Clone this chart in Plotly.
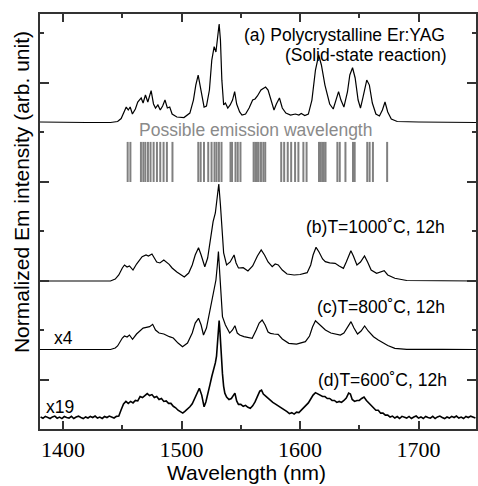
import plotly.graph_objects as go

# ---------------- data ----------------
# (a) Polycrystalline Er:YAG, intensity in % of its maximum
wl_a = [1380.5, 1400, 1420, 1440, 1446, 1449, 1451, 1453.3, 1455, 1456.6, 1458.5, 1461, 1463,
        1465.9, 1467.5, 1469.5, 1471.5, 1474.3, 1476.3, 1478, 1480, 1482, 1484, 1486, 1488,
        1490, 1492, 1496, 1502, 1507, 1510, 1512, 1514, 1516, 1519, 1521, 1523.5, 1525.5,
        1527.5, 1529, 1530.5, 1531.7, 1532.8, 1534, 1535.5, 1537, 1539, 1541, 1543, 1544.8,
        1546.5, 1549, 1551, 1554, 1557, 1560, 1562, 1564, 1567, 1570.9, 1573, 1576, 1578,
        1580, 1582.6, 1585, 1588, 1592, 1596, 1599, 1601, 1604, 1607, 1610, 1613, 1615.7,
        1618, 1621, 1625, 1628, 1630.5, 1632.5, 1634.5, 1637, 1640, 1642, 1644.3, 1646.5,
        1649, 1651, 1653, 1656.3, 1658.5, 1661, 1664, 1667, 1669.5, 1671.7, 1674, 1677,
        1682, 1700, 1748.5]
in_a = [0.5, 0, 0, 0, 1, 4, 10, 15.7, 12.7, 15.7, 8.6, 13.7, 20.8,
        24.9, 19.8, 27.9, 20.8, 32.3, 18.8, 14.7, 17.8, 12.7, 16.7, 22.8, 14.7,
        15.7, 8.6, 5.6, 5, 9.6, 22.8, 38, 48.2, 35, 15.7, 16.7, 33, 63.4,
        77, 71.6, 88.8, 100, 83.7, 43, 17.8, 19.8, 14.7, 17.8, 22.8, 31.3,
        18.8, 10.7, 7.6, 8.6, 14.7, 22.8, 23.9, 26.9, 33, 36, 33, 19.8, 12.7,
        18.8, 24.9, 14.7, 9.6, 7.6, 8.6, 7.6, 9.1, 7.1, 8.6, 22.8, 53.3, 68.5,
        58.4, 38, 18.8, 13.7, 22.8, 31.3, 22.8, 15.7, 31, 48.2, 55.6, 45.2,
        22.8, 14.7, 24.9, 43.1, 38, 19.8, 8.6, 6.6, 12.7, 20.8, 10.7, 3.6,
        1, 0.5, 0]

# (b) T=1000 C, 12h
wl_b = [1380.5, 1420, 1440, 1444, 1447, 1450, 1451.8, 1454, 1456, 1459, 1462, 1466.7, 1470,
        1472, 1475, 1477, 1479, 1481.7, 1485, 1489.5, 1492, 1496, 1502.3, 1506, 1509, 1511.5,
        1514.3, 1516.5, 1519.6, 1522, 1524.5, 1526.6, 1528.5, 1530, 1531.4, 1532.8, 1534,
        1535.5, 1538, 1541, 1544.3, 1546, 1548, 1552, 1556, 1560, 1564, 1567.2, 1570, 1573,
        1576.5, 1579, 1581.6, 1585, 1589, 1595, 1600, 1606, 1609, 1611, 1613.5, 1616, 1619,
        1621.3, 1625, 1629.6, 1633, 1636.6, 1639, 1642.9, 1645, 1648, 1651, 1654.4, 1657,
        1660, 1664.6, 1668, 1671, 1674, 1680, 1690, 1720, 1748.5]
in_b = [0, 0, 0, 2, 6.2, 13.4, 16.5, 14.4, 15.5, 11.3, 17.5, 25, 26.8,
        25.8, 27.8, 23.7, 19.6, 18.6, 21.6, 17.2, 13.4, 9.3, 4.1, 8.2, 16.5, 26.8,
        34.3, 26.8, 14.7, 23.7, 42.3, 61.1, 70.1, 87.6, 100, 78.4, 52.6,
        28.9, 16.5, 19.6, 26.8, 18.6, 13.4, 13.7, 10.3, 15.5, 25.8, 32, 26.8, 19.6,
        14.7, 17.5, 16.5, 11.3, 7.2, 6.2, 6.7, 8.6, 16.5, 26.8, 34.7, 29.9, 22.7,
        19.9, 18.6, 18.2, 15.5, 13.1, 19.6, 31.2, 25.8, 16.5, 19.6, 25.8, 19.6,
        11.3, 7.9, 9.3, 10.6, 6.2, 2.8, 0.5, 0.5, 0]

# (c) T=800 C, 12h
wl_c = [1380.5, 1420, 1440, 1444, 1446, 1450, 1451.8, 1454, 1456, 1458.6, 1462, 1467.5, 1471,
        1473, 1475.6, 1478, 1481, 1485, 1489.7, 1493, 1497, 1500.8, 1505, 1509, 1511.5,
        1514.3, 1516.5, 1518.5, 1521, 1524, 1526, 1529, 1530.2, 1531.1, 1532.3, 1533.5,
        1534.5, 1537, 1540.6, 1543, 1545, 1547, 1549, 1552.6, 1556, 1559.6, 1563, 1565.5,
        1568, 1570.5, 1573, 1575, 1578, 1581.5, 1585, 1590.5, 1597, 1604.5, 1608, 1610.5,
        1613, 1616, 1619, 1621.4, 1626, 1630, 1634, 1637, 1640, 1643, 1645.5, 1648.5,
        1651.5, 1654.5, 1657.5, 1662, 1666, 1670, 1674, 1680, 1690, 1720, 1748.5]
in_c = [0, 0, 0, 1.5, 3.6, 11.7, 13.8, 12.8, 14.8, 10.4, 15.8, 21.9, 23,
        23.3, 25.7, 19.9, 16.8, 15.8, 13.1, 11.7, 6.6, 2.9, 6.6, 16.8, 27,
        31.8, 25, 14.8, 21.9, 40.3, 53.9, 70.9, 86.2, 100, 76, 50.5,
        33.5, 25, 16.8, 19.9, 24.3, 16.8, 14.8, 13.1, 12.2, 11.4, 19.9, 27,
        30.1, 25, 17.9, 16.5, 15.8, 15.5, 10.7, 6.3, 5.6, 8, 13.8, 23,
        29.4, 26, 21.9, 19.9, 16.8, 15.8, 14.8, 16.8, 23, 28.4, 21.9, 15.8,
        18.9, 24, 18.9, 13.1, 9.7, 6.6, 4.1, 1.2, 0.2, 0.2, 0]

# (d) T=600 C, 12h (noisy trace)
wl_d = [1381, 1383, 1385, 1387, 1389, 1391, 1393, 1395, 1397, 1399, 1401, 1403, 1405, 1407,
        1409, 1411, 1413, 1415, 1417, 1419, 1421, 1423, 1425, 1427, 1429, 1431, 1433, 1435,
        1437, 1439, 1441, 1443, 1445, 1447, 1449, 1451, 1453, 1455, 1457, 1459, 1461, 1463,
        1465, 1467, 1469, 1471, 1473, 1475, 1477, 1479, 1481, 1483, 1485, 1487, 1489, 1491,
        1493, 1495, 1497, 1499, 1501, 1503, 1505, 1507, 1509, 1511, 1513, 1515, 1517, 1519,
        1520.5, 1522, 1524, 1525.5, 1527, 1528.5, 1529.5, 1530.5, 1531.2, 1531.7, 1532.3,
        1532.8, 1533.6, 1534.5, 1535.5, 1536.5, 1538, 1540, 1542, 1544, 1545, 1546.5, 1548,
        1550, 1552, 1554, 1556, 1558, 1560, 1562, 1564, 1566, 1567.5, 1569, 1571, 1573, 1575,
        1577, 1579, 1581, 1583, 1585, 1587, 1589, 1591, 1593, 1595, 1597, 1599, 1601, 1603,
        1605, 1607, 1609, 1611, 1613, 1615, 1617, 1619, 1621, 1623, 1625, 1627, 1629, 1631,
        1633, 1635, 1637, 1639, 1641, 1642.5, 1644, 1646, 1648, 1650, 1652, 1654, 1656, 1658,
        1660, 1662, 1664, 1666, 1668, 1670, 1672, 1674, 1676, 1678, 1680, 1682, 1684, 1686,
        1688, 1690, 1692, 1694, 1696, 1698, 1700, 1702, 1704, 1706, 1708, 1710, 1712, 1714,
        1716, 1718, 1720, 1722, 1724, 1726, 1728, 1730, 1732, 1734, 1736, 1738, 1740, 1742,
        1744, 1746, 1748]
in_d = [0.5, -0.8, 1.2, 0, -1, 0.6, 1.5, -0.7, 0.4, -1.1, 1, 0, -0.6, 1.2,
        -1, 0.5, 1.4, 0, -1.1, 0.6, -0.5, 1.1, 0, 1.5, -0.6, 0.5, -1, 1,
        0, 1.5, 0.5, -0.5, 1.2, 1.5, 8, 14, 16.5, 14.5, 16.5, 15, 17.5, 17,
        21.5, 20.5, 22.5, 24.5, 22.5, 23.5, 20.5, 21.5, 18.5, 19.5, 16.5, 17, 14.5, 14.5,
        11.5, 10, 7.5, 5.5, 4.5, 6.5, 8.5, 11, 14, 19, 25, 30, 23, 11,
        16, 25, 34, 42, 48, 56, 63, 79, 92, 99.5, 90,
        76, 58, 45, 32, 25, 21, 18.5, 19.5, 24, 25, 17, 13.5,
        13.5, 11.5, 12.5, 10.5, 9.5, 12, 16, 22, 27, 28, 24, 22, 19.5, 17,
        15.5, 14, 12.5, 11, 9.5, 7.5, 6, 4, 5, 3.5, 5.5, 5, 7.5, 9,
        12, 15, 19, 23, 25.5, 24, 23, 21.5, 21.5, 19.5, 19.5, 17.5, 17.5, 15.5,
        16.5, 15.5, 17.5, 20, 25, 24, 18.5, 16.5, 17.5, 17.5, 19.5, 21, 17.5, 15,
        11.5, 10, 7.5, 7.5, 4.5, 4.5, 2.5, 2.5, 0.5, 1.5, -0.5, 1, -1, 1.2,
        0, -0.6, 1.1, -1, 0.5, 1.5, -0.6, 0.6, -1, 1.1, 0, -0.7, 1.2, -1,
        0.6, 1.5, 0, -1.1, 0.5, -0.6, 1.2, 0, 1.5, -0.5, 0.5, -1, 1.1, 0,
        1.4, 0.5, -0.6]

# possible emission wavelengths (nm)
emission_lines = [1454.5, 1456.8, 1465.7, 1467.7, 1469.4, 1471.6, 1473.8, 1476.4, 1479.2,
                  1482.0, 1484.8, 1487.6, 1492.3, 1514.1, 1516.1, 1518.9, 1522.5, 1525.3,
                  1527.8, 1529.5, 1531.5, 1533.7, 1541.3, 1542.6, 1545.5, 1547.4, 1549.7,
                  1560.8, 1562.2, 1563.6, 1565.0, 1567.0, 1569.0, 1570.6, 1584.1, 1586.6,
                  1589.6, 1592.5, 1595.8, 1598.6, 1602.8, 1605.5, 1616.0, 1617.3, 1618.7,
                  1620.1, 1621.5, 1631.5, 1633.5, 1638.3, 1644.7, 1646.1, 1656.7, 1658.7,
                  1661.5, 1673.5]

labels = ["(a) Polycrystalline Er:YAG", "(Solid-state reaction)",
          "(b)T=1000˚C, 12h", "(c)T=800˚C, 12h", "(d)T=600˚C, 12h"]
x_ticks = [1400, 1500, 1600, 1700]

# ---------------- layout helpers ----------------
offsets = [6.192, 2.99, 1.606, 0.232]      # vertical offsets of the stacked traces
scales = [0.0199, 0.0196, 0.0198, 0.0197]  # axis units per % of maximum
widths = [1.2, 1.2, 1.2, 1.6]
bar_lo, bar_hi = 4.99, 5.80

fig = go.Figure()
series = [(wl_a, in_a), (wl_b, in_b), (wl_c, in_c), (wl_d, in_d)]
for (wl, iv), off, sc, lw in zip(series, offsets, scales, widths):
    fig.add_trace(go.Scatter(x=wl, y=[off + v * sc for v in iv], mode="lines",
                             line=dict(color="black", width=lw), showlegend=False,
                             hoverinfo="skip"))

bx, by = [], []
for w in emission_lines:
    bx += [w, w, None]
    by += [bar_lo, bar_hi, None]
fig.add_trace(go.Scatter(x=bx, y=by, mode="lines", line=dict(color="#808080", width=2),
                         showlegend=False, hoverinfo="skip"))

W, H = 478, 486
L, R, T, B = 40, 0, 14, 57
pw, ph = W - L - R, H - T - B


def px(xp):
    return (xp - L) / pw


def py(yp):
    return (H - B - yp) / ph


sans = "Liberation Sans, Arial, sans-serif"
ann = []


def add(text, x, y, xanchor, size=17.5, color="black", angle=0):
    ann.append(dict(text=text, x=px(x), y=py(y), xref="paper", yref="paper",
                    xanchor=xanchor, yanchor="middle", showarrow=False, textangle=angle,
                    font=dict(family=sans, size=size, color=color)))


add(labels[0], 449, 35, "right")
add(labels[1], 450, 55, "right")
add("Possible emission wavelength", 256.5, 130, "center", color="#8a8a8a")
add(labels[2], 449, 227, "right")
add(labels[3], 449, 307, "right")
add(labels[4], 451, 380, "right")
add("x4", 52, 338, "left")
add("x19", 44, 407, "left")
add("Wavelength (nm)", 247, 472, "center", size=21)
add("Normalized Em intensity (arb. unit)", 21, 192, "center", size=21, angle=-90)

axis_common = dict(showgrid=False, zeroline=False, showline=True, linecolor="#333333",
                   linewidth=1.5, mirror="ticks", ticks="inside", tickcolor="#333333",
                   tickwidth=1.5)

fig.update_layout(
    width=W, height=H, margin=dict(l=L, r=R, t=T, b=B),
    paper_bgcolor="white", plot_bgcolor="white",
    annotations=ann,
    xaxis=dict(range=[1380.5, 1748.5], tickvals=x_ticks, ticklen=8,
               tickfont=dict(family="Liberation Serif, Times New Roman, serif", size=22,
                             color="black"),
               minor=dict(dtick=50, tick0=1400, ticklen=4, ticks="inside",
                          tickcolor="#333333", tickwidth=1.5),
               **axis_common),
    yaxis=dict(range=[0, 8.384], tick0=1, dtick=2, ticklen=9, showticklabels=False,
               minor=dict(dtick=1, tick0=0, ticklen=4, ticks="inside",
                          tickcolor="#333333", tickwidth=1.5),
               **axis_common),
)

fig.write_html("out.html")
